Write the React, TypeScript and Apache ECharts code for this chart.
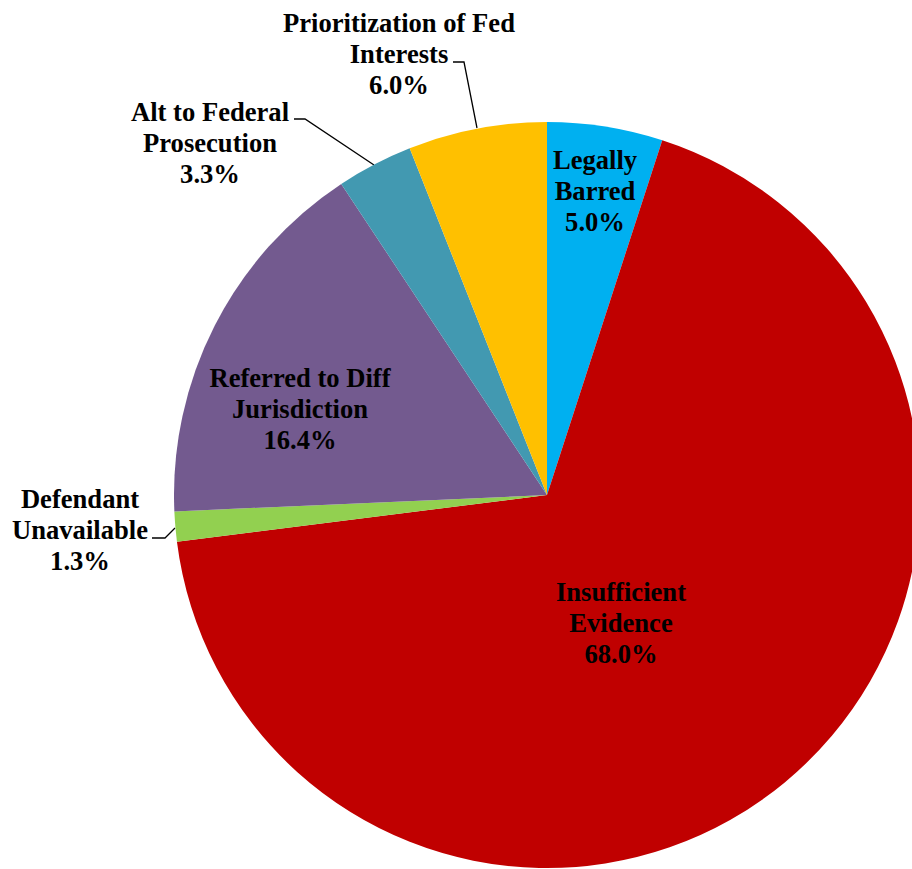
import React, { useEffect, useRef } from "react";
import * as echarts from "echarts";

const categories = [
  "Legally Barred",
  "Insufficient Evidence",
  "Defendant Unavailable",
  "Referred to Diff Jurisdiction",
  "Alt to Federal Prosecution",
  "Prioritization of Fed Interests",
];
const labelTexts = [
  "Legally\nBarred",
  "Insufficient\nEvidence",
  "Defendant\nUnavailable",
  "Referred to Diff\nJurisdiction",
  "Alt to Federal\nProsecution",
  "Prioritization of Fed\nInterests",
];
const values = [5.0, 68.0, 1.3, 16.4, 3.3, 6.0];
const colors = ["#00B0F0", "#C00000", "#92D050", "#735A8F", "#4299B1", "#FFC000"];

// label placement (annotation layout, not data)
const labelCenters: number[][] = [
  [595, 191],
  [621, 623],
  [80, 530],
  [300, 409],
  [210, 143],
  [399, 54],
];
const leaderLines: (number[][] | null)[] = [
  null,
  null,
  [[175, 528], [165, 538], [152, 538]],
  null,
  [[374, 165], [305, 119], [294, 119]],
  [[477, 128], [464, 62], [453, 62]],
];

export default function App() {
  const ref = useRef<HTMLDivElement>(null);
  useEffect(() => {
    if (!ref.current) return;
    const chart = echarts.init(ref.current, null, { renderer: "svg" });
    const data = categories.map((name, i) => ({
      name,
      value: values[i],
      itemStyle: { color: colors[i] },
      label: { position: leaderLines[i] ? "outside" : "inside" },
      labelLine: { show: !!leaderLines[i] },
    }));
    chart.setOption({
      animation: false,
      backgroundColor: "#ffffff",
      series: [
        {
          type: "pie",
          center: [547, 495],
          radius: 373,
          startAngle: 90,
          clockwise: true,
          avoidLabelOverlap: false,
          data,
          itemStyle: { borderWidth: 0 },
          emphasis: { disabled: true },
          label: {
            show: true,
            color: "#000000",
            fontFamily: "Liberation Serif",
            fontWeight: "bold",
            fontSize: 26.6,
            lineHeight: 31,
            align: "center",
            formatter: (p: any) =>
              labelTexts[p.dataIndex] + "\n" + Number(p.value).toFixed(1) + "%",
          },
          labelLine: {
            show: true,
            lineStyle: { color: "#000000", width: 1.3 },
          },
          labelLayout: (p: any) => {
            const i = p.dataIndex;
            const res: any = {
              x: labelCenters[i][0],
              y: labelCenters[i][1],
              align: "center",
              verticalAlign: "middle",
            };
            if (leaderLines[i]) res.labelLinePoints = leaderLines[i];
            return res;
          },
        },
      ],
    });
    return () => chart.dispose();
  }, []);
  return (
    <div
      ref={ref}
      style={{ position: "fixed", left: 0, top: 0, width: 912, height: 869 }}
    />
  );
}
